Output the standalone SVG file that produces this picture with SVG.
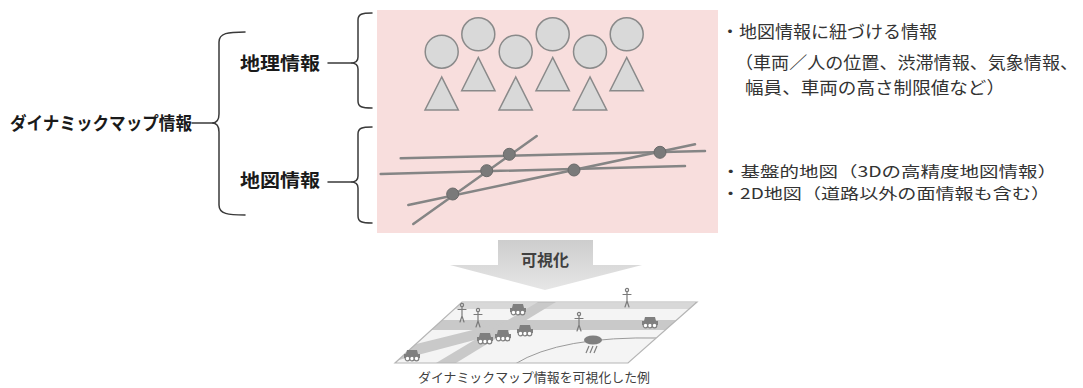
<svg xmlns="http://www.w3.org/2000/svg" width="1083" height="388" viewBox="0 0 1083 388">
  <style>
    .jp { font-family: "Noto Sans CJK JP", "Noto Sans", sans-serif; }
    .head { font-size: 18px; font-weight: bold; fill: #1a1a1a; }
    .note { font-size: 17px; fill: #333333; }
    .note-sm { font-size: 15px; }
    .brace { fill: none; stroke: #3a3a3a; stroke-width: 1.5; stroke-linecap: round; }
    .shape { fill: #d9d9d9; stroke: #8a8a8a; stroke-width: 1.5; }
    .road-line { stroke: #858585; stroke-width: 2.5; stroke-linecap: round; }
    .node-dot { fill: #7a7a7a; stroke: #6a6a6a; stroke-width: 1; }
    .band { fill: #c9c9c9; }
    .band-light { fill: #d8d8d8; }
    .car-body { fill: #7f7f7f; }
    .wheel { fill: #ffffff; stroke: #7f7f7f; stroke-width: 1.2; }
    .person { fill: none; stroke: #7a7a7a; stroke-width: 1.2; stroke-linecap: round; }
  </style>
  <defs>
    <linearGradient id="arrowFill" x1="0" y1="0" x2="0" y2="1">
      <stop offset="0" stop-color="#cdcdcd"/>
      <stop offset="1" stop-color="#e6e6e6"/>
    </linearGradient>
    <clipPath id="mapClip">
      <polygon points="462,302 697,302 628,363 395,363"/>
    </clipPath>
    <symbol id="car" viewBox="0 0 16 12" overflow="visible">
      <path class="car-body" d="M3 1 H13 L14 5 H16 V9 H0 V5 H2 Z"/>
      <circle class="wheel" cx="3.5" cy="9.5" r="2.3"/>
      <circle class="wheel" cx="8" cy="9.5" r="2.3"/>
      <circle class="wheel" cx="12.5" cy="9.5" r="2.3"/>
    </symbol>
    <symbol id="person" viewBox="0 0 10 20" overflow="visible">
      <circle class="person" cx="5" cy="2" r="1.6"/>
      <path class="person" d="M5 3.6 V13 M1 6.5 H9 M5 13 L3 19 M5 13 L7 19"/>
    </symbol>
  </defs>

  <!-- panel behind the map layers -->
  <rect id="layer-panel" x="377" y="10" width="341" height="223" fill="#f8dedd"/>

  <!-- root label -->
  <g id="node-dynamic-map">
    <text class="jp head" x="10" y="130" textLength="182" lengthAdjust="spacingAndGlyphs">ダイナミックマップ情報</text>
  </g>

  <g id="node-geo-info">
    <text class="jp head" x="240" y="70" textLength="80" lengthAdjust="spacingAndGlyphs">地理情報</text>
  </g>

  <g id="node-map-info">
    <text class="jp head" x="240" y="187" textLength="80" lengthAdjust="spacingAndGlyphs">地図情報</text>
  </g>

  <!-- connectors: braces and stubs -->
  <g id="connectors">
    <path class="brace" d="M192 123 H212"/>
    <path class="brace" d="M245 32 C228 32 219 33 219 42 L219 114 C219 120 216 123 212 123 C216 123 219 126 219 132 L219 205 C219 214 228 215 245 215"/>
    <path class="brace" d="M328 63 H351"/>
    <path class="brace" d="M372 13 C362 13 358 14 358 20 L358 57 C358 61 356 63 351 63 C356 63 358 65 358 69 L358 101 C358 107 362 108 372 108"/>
    <path class="brace" d="M328 182 H351"/>
    <path class="brace" d="M372 127 C362 127 358 128 358 134 L358 176 C358 180 356 182 351 182 C356 182 358 184 358 188 L358 216 C358 222 362 223 372 223"/>
  </g>

  <!-- objects layer: people / vehicles as circles and triangles -->
  <g id="node-objects">
    <circle class="shape" cx="441.7" cy="51.7" r="16.5"/>
    <circle class="shape" cx="478.3" cy="34.3" r="16.5"/>
    <circle class="shape" cx="515.7" cy="51.7" r="16.5"/>
    <circle class="shape" cx="552.7" cy="34.3" r="16.5"/>
    <circle class="shape" cx="590" cy="51.7" r="16.5"/>
    <circle class="shape" cx="626.7" cy="34.3" r="16.5"/>
    <polygon class="shape" points="441.7,77 425,110 458.3,110"/>
    <polygon class="shape" points="478.3,57.5 461.7,90.7 495,90.7"/>
    <polygon class="shape" points="515.7,77 499,110 532.3,110"/>
    <polygon class="shape" points="552.7,57.5 536,90.7 569.3,90.7"/>
    <polygon class="shape" points="590,77 573.3,110 606.7,110"/>
    <polygon class="shape" points="626.7,57.5 610,90.7 643.3,90.7"/>
  </g>

  <!-- base map layer: road lines and intersections -->
  <g id="node-roads">
    <line class="road-line" x1="400.7" y1="158.3" x2="705" y2="151"/>
    <line class="road-line" x1="380.7" y1="174" x2="685" y2="166"/>
    <line class="road-line" x1="413.3" y1="224" x2="536.7" y2="136"/>
    <line class="road-line" x1="408.3" y1="205" x2="695" y2="144.3"/>
    <circle class="node-dot" cx="509.3" cy="154.3" r="6"/>
    <circle class="node-dot" cx="486.7" cy="170.7" r="6"/>
    <circle class="node-dot" cx="452.7" cy="194" r="6"/>
    <circle class="node-dot" cx="574" cy="170" r="6"/>
    <circle class="node-dot" cx="660" cy="152.3" r="6"/>
  </g>

  <!-- descriptions -->
  <g id="node-geo-notes" class="jp note">
    <text x="721" y="38" textLength="216" lengthAdjust="spacingAndGlyphs">・地図情報に紐づける情報</text>
    <text x="735" y="69" textLength="343" lengthAdjust="spacingAndGlyphs">（車両／人の位置、渋滞情報、気象情報、</text>
    <text x="745" y="94" textLength="260" lengthAdjust="spacingAndGlyphs">幅員、車両の高さ制限値など）</text>
  </g>
  <g id="node-map-notes" class="jp note note-sm">
    <text x="721" y="177" textLength="336" lengthAdjust="spacingAndGlyphs">・基盤的地図（3Dの高精度地図情報）</text>
    <text x="721" y="199" textLength="329" lengthAdjust="spacingAndGlyphs">・2D地図（道路以外の面情報も含む）</text>
  </g>

  <!-- visualisation arrow -->
  <g id="node-visualize">
    <polygon points="498,240 593,240 593,265 642,265 545,290 450,265 498,265" fill="url(#arrowFill)"/>
    <text class="jp" x="545" y="266" text-anchor="middle" font-size="16" font-weight="bold" fill="#404040">可視化</text>
  </g>

  <!-- illustrated dynamic map -->
  <g id="node-map-example">
    <polygon points="462,302 697,302 628,363 395,363" fill="#f4f4f4"/>
    <g clip-path="url(#mapClip)">
      <rect class="band-light" x="380" y="303" width="330" height="6"/>
      <rect class="band" x="380" y="320" width="330" height="10"/>
      <polygon class="band" points="380,353 505,322 505,332 380,365"/>
      <polygon class="band" points="436,363 538,302 556,302 456,363"/>
      <path d="M515 364 Q560 336 660 338" fill="none" stroke="#9a9a9a" stroke-width="1"/>
    </g>
    <polygon points="462,302 697,302 628,363 395,363" fill="none" stroke="#b5b5b5" stroke-width="1.2"/>
    <use href="#car" x="404" y="349" width="16" height="12"/>
    <use href="#car" x="510" y="303" width="16" height="12"/>
    <use href="#car" x="477" y="332" width="16" height="12"/>
    <use href="#car" x="495" y="329" width="16" height="12"/>
    <use href="#car" x="517" y="324" width="16" height="12"/>
    <use href="#car" x="642" y="316" width="16" height="12"/>
    <use href="#person" x="457" y="303" width="10" height="20"/>
    <use href="#person" x="473" y="308" width="10" height="20"/>
    <use href="#person" x="622" y="288" width="10" height="20"/>
    <use href="#person" x="574" y="312" width="10" height="20"/>
    <ellipse cx="593" cy="340" rx="9" ry="4.5" fill="#7f7f7f"/>
    <path d="M589 346 L586 353 M593 346 L590 353 M597 346 L594 353" stroke="#7f7f7f" stroke-width="1.2"/>
    <text class="jp" x="534" y="382" text-anchor="middle" font-size="13" fill="#404040" textLength="232" lengthAdjust="spacingAndGlyphs">ダイナミックマップ情報を可視化した例</text>
  </g>
</svg>
